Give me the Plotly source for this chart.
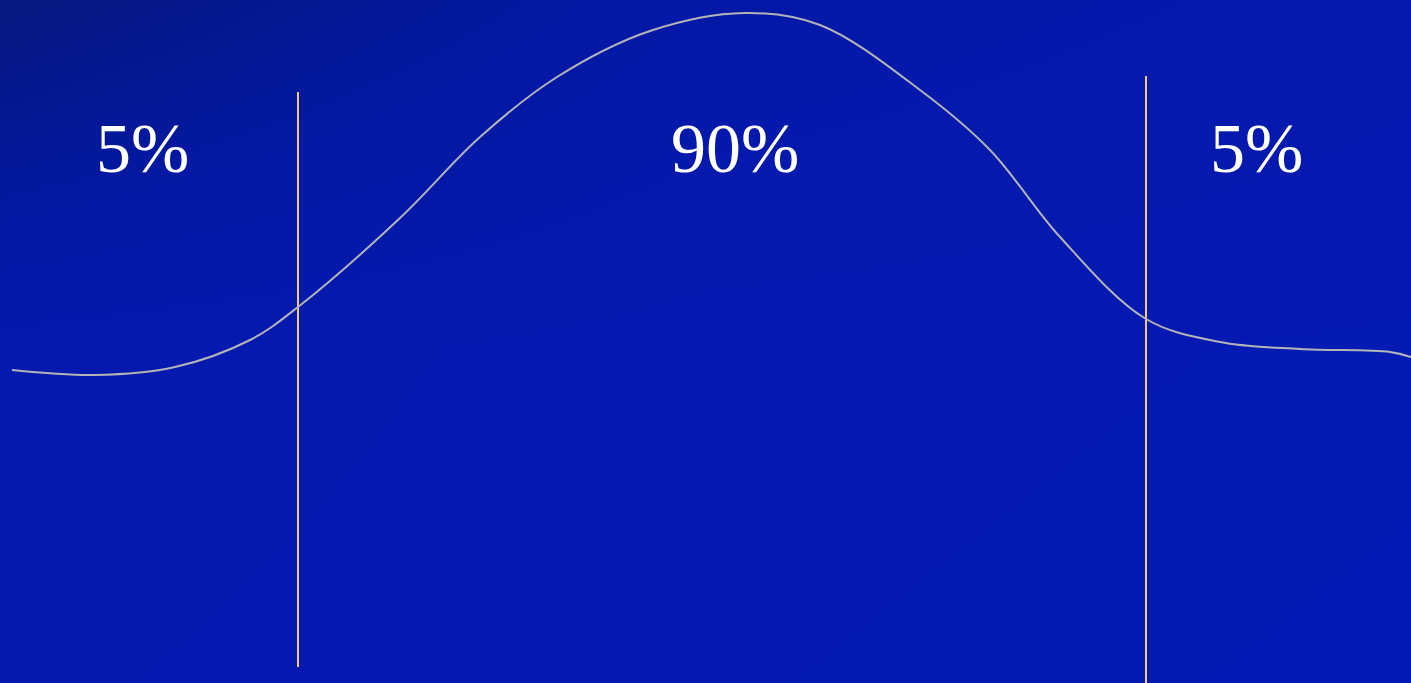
import plotly.graph_objects as go

W, H = 1411, 683

# Curve (x position, height)
curve_x = [12, 95, 175, 250, 298, 400, 480, 557, 650, 745, 820, 920, 990, 1060, 1146, 1220, 1300, 1390, 1411]
curve_py = [370, 375, 367, 340, 307, 218, 137, 77, 31, 13, 25, 90, 150, 237, 319, 342, 349, 352, 357]
curve_y = [H - v for v in curve_py]

# Vertical cut lines: x, bottom, top
cut_x = [298, 1146]
cut_bottom = [16, 0]
cut_top = [591, 607]

# Labels
label_text = ["5%", "90%", "5%"]
label_x = [142, 735, 1256]
label_y = [535, 535, 535]

fig = go.Figure()

# background gradient
bg_x = [0, 700, 1411]
bg_y = [0, 340, 683]
bg_z = [[0.85, 0.95, 1.0],
        [0.78, 0.92, 0.97],
        [0.0, 0.6, 0.82]]
fig.add_trace(go.Heatmap(x=bg_x, y=bg_y, z=bg_z, zsmooth="best", showscale=False,
                         colorscale=[[0, "#06177f"], [0.5, "#0418a3"], [1, "#0519b4"]],
                         hoverinfo="skip"))

for x, b, t in zip(cut_x, cut_bottom, cut_top):
    fig.add_trace(go.Scatter(x=[x, x], y=[b, t], mode="lines",
                             line=dict(color="#f7c96e", width=2), hoverinfo="skip"))

fig.add_trace(go.Scatter(x=curve_x, y=curve_y, mode="lines",
                         line=dict(color="#b4b4b8", width=2, shape="spline", smoothing=1.0),
                         hoverinfo="skip"))

for t, x, y in zip(label_text, label_x, label_y):
    fig.add_annotation(x=x, y=y, text=t, showarrow=False,
                       font=dict(family="Liberation Serif", size=70, color="white"))

fig.update_layout(width=W, height=H, margin=dict(l=0, r=0, t=0, b=0),
                  showlegend=False, paper_bgcolor="#0418a8", plot_bgcolor="#0418a8",
                  xaxis=dict(range=[0, W], visible=False, fixedrange=True),
                  yaxis=dict(range=[0, H], visible=False, fixedrange=True))

fig.write_html("out.html", config={"displayModeBar": False})
